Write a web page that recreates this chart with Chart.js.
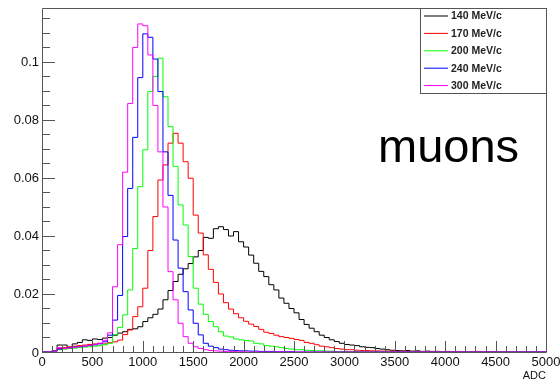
<!DOCTYPE html>
<html>
<head>
<meta charset="utf-8">
<title>ADC spectra</title>
<script src="https://cdn.jsdelivr.net/npm/chart.js@4.4.1/dist/chart.umd.min.js"></script>
<style>
  html, body { margin: 0; padding: 0; background: #fff; }
  canvas { display: block; }
</style>
</head>
<body>
<canvas id="adc" width="560" height="383"></canvas>
<script>
// histogram binning (ADC counts)
const binStart = 0;
const binWidth = 50;

const momenta = ['140 MeV/c', '170 MeV/c', '200 MeV/c', '240 MeV/c', '300 MeV/c'];
const lineColors = ['#000000', '#ff0000', '#00ff00', '#0000ff', '#ff00ff'];

const xTicks = [0, 500, 1000, 1500, 2000, 2500, 3000, 3500, 4000, 4500, 5000];
const yTicks = [0, 0.02, 0.04, 0.06, 0.08, 0.1];
const yTickLabels = ['0', '0.02', '0.04', '0.06', '0.08', '0.1'];

// normalised bin contents, one entry per 50 ADC bin (0 .. 5000)
const h140 = [
  0, 0, 0.0005, 0.0024, 0.0024, 0.0015, 0.0028, 0.0033, 0.0042, 0.0040,
  0.0045, 0.0043, 0.0048, 0.0050, 0.0058, 0.0065, 0.0070, 0.0078, 0.0080, 0.0087,
  0.0105, 0.0118, 0.0130, 0.0148, 0.0180, 0.0212, 0.0243, 0.0268, 0.0287, 0.0305,
  0.0328, 0.0350, 0.0395, 0.0392, 0.0425, 0.0432, 0.0422, 0.0400, 0.0415, 0.0380,
  0.0362, 0.0334, 0.0306, 0.0278, 0.0260, 0.0232, 0.0214, 0.0186, 0.0168, 0.0150,
  0.0135, 0.0112, 0.0095, 0.0082, 0.0070, 0.0058, 0.0050, 0.0042, 0.0036, 0.0030,
  0.0026, 0.0024, 0.0022, 0.0018, 0.0016, 0.0015, 0.0012, 0.0010, 0.0008, 0.0006,
  0.0005, 0.0004, 0.0005, 0.0003, 0.0004, 0.0002, 0.0003, 0.0002, 0.0002, 0.0001,
  0.0002, 0.0001, 0.0001, 0.0001, 0, 0.0001, 0, 0, 0.0001, 0,
  0, 0, 0, 0, 0, 0, 0, 0, 0, 0
];
const h170 = [
  0, 0, 0.0005, 0.0012, 0.0015, 0.0018, 0.0020, 0.0022, 0.0024, 0.0026,
  0.0028, 0.0030, 0.0028, 0.0032, 0.0035, 0.0041, 0.0060, 0.0076, 0.0122, 0.0156,
  0.0220, 0.0350, 0.0467, 0.0593, 0.0645, 0.0720, 0.0754, 0.0720, 0.0656, 0.0599,
  0.0472, 0.0410, 0.0335, 0.0285, 0.0240, 0.0200, 0.0170, 0.0148, 0.0132, 0.0118,
  0.0106, 0.0096, 0.0088, 0.0078, 0.0068, 0.0064, 0.0058, 0.0053, 0.0050, 0.0047,
  0.0043, 0.0040, 0.0033, 0.0030, 0.0025, 0.0020, 0.0018, 0.0015, 0.0012, 0.0010,
  0.0008, 0.0008, 0.0006, 0.0005, 0.0005, 0.0004, 0.0004, 0.0003, 0.0003, 0.0003,
  0.0002, 0.0003, 0.0002, 0.0002, 0.0001, 0.0002, 0.0001, 0.0001, 0.0002, 0.0001,
  0.0001, 0.0001, 0.0002, 0.0001, 0.0001, 0.0001, 0.0002, 0.0001, 0, 0.0001,
  0.0001, 0, 0, 0, 0, 0, 0, 0, 0, 0
];
const h200 = [
  0, 0, 0.0003, 0.0008, 0.0010, 0.0012, 0.0013, 0.0015, 0.0017, 0.0018,
  0.0020, 0.0022, 0.0025, 0.0030, 0.0060, 0.0085, 0.0128, 0.0214, 0.0357, 0.0570,
  0.0697, 0.0898, 0.0950, 0.1013, 0.0880, 0.0777, 0.0640, 0.0507, 0.0438, 0.0329,
  0.0220, 0.0165, 0.0130, 0.0105, 0.0087, 0.0070, 0.0055, 0.0052, 0.0045, 0.0042,
  0.0040, 0.0038, 0.0030, 0.0028, 0.0022, 0.0020, 0.0018, 0.0015, 0.0012, 0.0010,
  0.0008, 0.0008, 0.0006, 0.0005, 0.0004, 0.0004, 0.0003, 0.0003, 0.0002, 0.0002,
  0.0002, 0.0001, 0.0002, 0.0001, 0.0001, 0.0001, 0.0001, 0, 0.0001, 0,
  0, 0, 0, 0, 0, 0, 0, 0, 0, 0,
  0, 0, 0, 0, 0, 0, 0, 0, 0, 0,
  0, 0, 0, 0, 0, 0, 0, 0, 0, 0
];
const h240 = [
  0, 0, 0.0003, 0.0010, 0.0012, 0.0015, 0.0017, 0.0019, 0.0020, 0.0022,
  0.0025, 0.0028, 0.0035, 0.0058, 0.0110, 0.0195, 0.0398, 0.0564, 0.0740, 0.0946,
  0.1097, 0.1085, 0.1010, 0.0898, 0.0690, 0.0540, 0.0386, 0.0289, 0.0208, 0.0145,
  0.0099, 0.0059, 0.0030, 0.0020, 0.0015, 0.0010, 0.0008, 0.0006, 0.0005, 0.0004,
  0.0004, 0.0003, 0.0003, 0.0002, 0.0002, 0.0002, 0.0001, 0.0001, 0.0001, 0.0001,
  0, 0, 0, 0, 0, 0, 0, 0, 0, 0,
  0, 0, 0, 0, 0, 0, 0, 0, 0, 0,
  0, 0, 0, 0, 0, 0, 0, 0, 0, 0,
  0, 0, 0, 0, 0, 0, 0, 0, 0, 0,
  0, 0, 0, 0, 0, 0, 0, 0, 0, 0
];
const h300 = [
  0, 0, 0.0003, 0.0015, 0.0012, 0.0014, 0.0016, 0.0018, 0.0020, 0.0023,
  0.0025, 0.0030, 0.0040, 0.0066, 0.0225, 0.0370, 0.0620, 0.0857, 0.1050, 0.1131,
  0.1125, 0.1024, 0.0850, 0.0690, 0.0500, 0.0277, 0.0180, 0.0099, 0.0053, 0.0030,
  0.0018, 0.0012, 0.0008, 0.0005, 0.0004, 0.0003, 0.0002, 0.0002, 0.0001, 0.0001,
  0, 0, 0, 0, 0, 0, 0, 0, 0, 0,
  0, 0, 0, 0, 0, 0, 0, 0, 0, 0,
  0, 0, 0, 0, 0, 0, 0, 0, 0, 0,
  0, 0, 0, 0, 0, 0, 0, 0, 0, 0,
  0, 0, 0, 0, 0, 0, 0, 0, 0, 0,
  0, 0, 0, 0, 0, 0, 0, 0, 0, 0
];

const histograms = [h140, h170, h200, h240, h300];

// left bin edges, plus one closing point at the upper edge of the last bin
function histPoints(counts) {
  const pts = counts.map((v, i) => ({ x: binStart + i * binWidth, y: v }));
  pts.push({ x: binStart + counts.length * binWidth, y: counts[counts.length - 1] });
  return pts;
}

const font = '"Liberation Sans", Arial, Helvetica, sans-serif';
const axisColor = '#555';

// ROOT style frame: inward ticks, labels, legend box and the "muons" caption
const rootFrame = {
  id: 'rootFrame',
  afterDatasetsDraw(chart) {
    const { ctx, chartArea: a, scales: { x, y } } = chart;
    ctx.save();
    ctx.strokeStyle = axisColor;
    ctx.lineWidth = 1;

    ctx.beginPath();
    ctx.rect(Math.round(a.left) + 0.5, Math.round(a.top) + 0.5,
             Math.round(a.right - a.left), Math.round(a.bottom - a.top));
    ctx.stroke();

    // x ticks: major every 500, minor every 100
    ctx.beginPath();
    for (let v = x.min; v <= x.max; v += 100) {
      const px = Math.round(x.getPixelForValue(v)) + 0.5;
      const len = v % 500 === 0 ? 11 : 6;
      ctx.moveTo(px, a.bottom);
      ctx.lineTo(px, a.bottom - len);
    }
    // y ticks: major every 0.02, minor every 0.005
    for (let k = 0; k * 0.005 <= y.max; k++) {
      const py = Math.round(y.getPixelForValue(k * 0.005)) + 0.5;
      const len = k % 4 === 0 ? 13 : 8;
      ctx.moveTo(a.left, py);
      ctx.lineTo(a.left + len, py);
    }
    ctx.stroke();

    ctx.fillStyle = '#111';
    ctx.font = '13px ' + font;
    ctx.textAlign = 'center';
    ctx.textBaseline = 'middle';
    xTicks.forEach(v => ctx.fillText(String(v), x.getPixelForValue(v), a.bottom + 10));

    ctx.textAlign = 'right';
    yTicks.forEach((v, i) => {
      const py = y.getPixelForValue(v) + (v === 0 ? 1 : 0);
      ctx.fillText(yTickLabels[i], a.left - 3, py);
    });

    ctx.font = '11px ' + font;
    ctx.textAlign = 'right';
    ctx.fillText('ADC', a.right, a.bottom + 24);

    ctx.fillStyle = '#000';
    ctx.font = '47px ' + font;
    ctx.textAlign = 'left';
    ctx.textBaseline = 'alphabetic';
    ctx.fillText('muons', 378, 162);
    ctx.restore();
  },
  afterDraw(chart) {
    const { ctx, chartArea: a } = chart;
    const box = { left: 420, top: a.top, right: a.right, bottom: 93 };
    ctx.save();
    ctx.fillStyle = '#fff';
    ctx.fillRect(box.left, box.top, box.right - box.left, box.bottom - box.top);
    ctx.strokeStyle = axisColor;
    ctx.lineWidth = 1;
    ctx.strokeRect(box.left + 0.5, box.top + 0.5, box.right - box.left, box.bottom - box.top);

    ctx.font = 'bold 10.5px ' + font;
    ctx.textAlign = 'left';
    ctx.textBaseline = 'middle';
    chart.data.datasets.forEach((ds, i) => {
      const ly = box.top + 8 + i * 17.4;
      ctx.strokeStyle = ds.borderColor;
      ctx.lineWidth = 1;
      ctx.beginPath();
      ctx.moveTo(box.left + 4, ly);
      ctx.lineTo(box.left + 28, ly);
      ctx.stroke();
      ctx.fillStyle = '#222';
      ctx.fillText(ds.label, box.left + 31, ly + 0.5);
    });
    ctx.restore();
  }
};

const ctx = document.getElementById('adc').getContext('2d');
const chart = new Chart(ctx, {
  type: 'line',
  data: {
    datasets: histograms.map((h, i) => ({
      label: momenta[i],
      data: histPoints(h),
      borderColor: lineColors[i],
      borderWidth: 1,
      stepped: true,
      pointRadius: 0,
      fill: false,
      clip: false,
      order: histograms.length - 1 - i   // later momenta drawn on top
    }))
  },
  options: {
    responsive: false,
    animation: false,
    layout: { padding: { left: 42, right: 14, top: 8, bottom: 31 } },
    scales: {
      x: { type: 'linear', min: 0, max: 5000, display: false },
      y: { type: 'linear', min: 0, max: 0.1186, display: false }
    },
    plugins: {
      legend: { display: false },
      tooltip: { enabled: false }
    }
  },
  plugins: [rootFrame]
});
</script>
</body>
</html>
